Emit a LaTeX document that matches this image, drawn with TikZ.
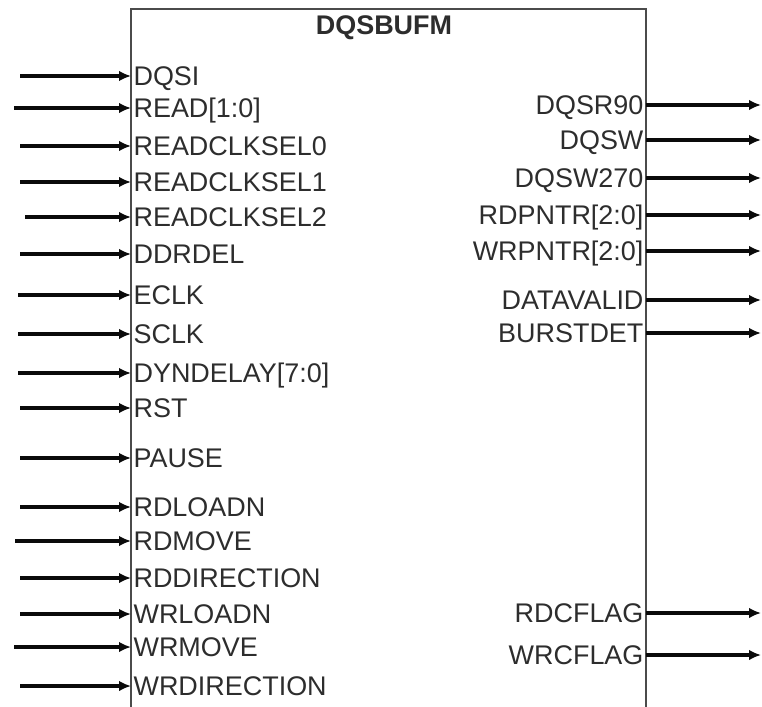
\documentclass[tikz,border=0pt]{standalone}
\usepackage{fontspec}
\setmainfont{Liberation Sans}
\usetikzlibrary{arrows.meta, positioning}
\definecolor{pinink}{RGB}{10, 10, 10}
\definecolor{labelgray}{RGB}{45, 45, 45}
\definecolor{framegray}{RGB}{75, 75, 75}

\begin{document}
\begin{tikzpicture}[
    x=0.03cm, y=-0.03cm,
    frame/.style={line width=1.5pt, draw=framegray},
    inlabel/.style={anchor=west, inner xsep=2pt, inner ysep=0pt, text height=16.5pt, text depth=0pt, font=\fontsize{23}{27}\selectfont, text=labelgray},
    outlabel/.style={inlabel, anchor=east},
    pin/.style={line width=2.8pt, pinink, -{Latex[length=0.36cm, width=0.32cm]}},
    buspin/.style={pin, line width=3.6pt}
]
\useasboundingbox (0,0) rectangle (762,707);

% Gehaeuse
\draw[frame] (131,707) -- (131,9) -- (646,9) -- (646,707);
\node[font=\fontsize{23}{27}\selectfont\bfseries, text=labelgray] (title) at (384,28) {DQSBUFM};

% Eingaenge
\node[inlabel] (dqsi) at (131,76) {DQSI};
\node[inlabel] (read) at (131,108) {READ[1:0]};
\node[inlabel] (rcs0) at (131,146) {READCLKSEL0};
\node[inlabel] (rcs1) at (131,182) {READCLKSEL1};
\node[inlabel] (rcs2) at (131,217) {READCLKSEL2};
\node[inlabel] (ddrdel) at (131,254) {DDRDEL};
\node[inlabel] (eclk) at (131,295) {ECLK};
\node[inlabel] (sclk) at (131,334) {SCLK};
\node[inlabel] (dyndelay) at (131,373) {DYNDELAY[7:0]};
\node[inlabel] (rst) at (131,408) {RST};
\node[inlabel] (pause) at (131,458) {PAUSE};
\node[inlabel] (rdloadn) at (131,507) {RDLOADN};
\node[inlabel] (rdmove) at (131,541) {RDMOVE};
\node[inlabel] (rddir) at (131,578) {RDDIRECTION};
\node[inlabel] (wrloadn) at (131,614) {WRLOADN};
\node[inlabel] (wrmove) at (131,647) {WRMOVE};
\node[inlabel] (wrdir) at (131,686) {WRDIRECTION};

\coordinate (dqsi-src) at (20,76);
\coordinate (read-src) at (14,108);
\coordinate (rcs0-src) at (20,146);
\coordinate (rcs1-src) at (20,182);
\coordinate (rcs2-src) at (25,217);
\coordinate (ddrdel-src) at (20,254);
\coordinate (eclk-src) at (18,295);
\coordinate (sclk-src) at (18,334);
\coordinate (dyndelay-src) at (18,373);
\coordinate (rst-src) at (20,408);
\coordinate (pause-src) at (20,458);
\coordinate (rdloadn-src) at (20,507);
\coordinate (rdmove-src) at (15,541);
\coordinate (rddir-src) at (20,578);
\coordinate (wrloadn-src) at (20,614);
\coordinate (wrmove-src) at (14,647);
\coordinate (wrdir-src) at (20,686);

\draw[pin] (dqsi-src) -- (dqsi.west);
\draw[pin] (read-src) -- (read.west);
\draw[pin] (rcs0-src) -- (rcs0.west);
\draw[pin] (rcs1-src) -- (rcs1.west);
\draw[pin] (rcs2-src) -- (rcs2.west);
\draw[buspin] (ddrdel-src) -- (ddrdel.west);
\draw[pin] (eclk-src) -- (eclk.west);
\draw[pin] (sclk-src) -- (sclk.west);
\draw[pin] (dyndelay-src) -- (dyndelay.west);
\draw[pin] (rst-src) -- (rst.west);
\draw[pin] (pause-src) -- (pause.west);
\draw[pin] (rdloadn-src) -- (rdloadn.west);
\draw[pin] (rdmove-src) -- (rdmove.west);
\draw[pin] (rddir-src) -- (rddir.west);
\draw[pin] (wrloadn-src) -- (wrloadn.west);
\draw[pin] (wrmove-src) -- (wrmove.west);
\draw[pin] (wrdir-src) -- (wrdir.west);

% Ausgaenge
\node[outlabel] (dqsr90) at (646,105) {DQSR90};
\node[outlabel] (dqsw) at (646,140) {DQSW};
\node[outlabel] (dqsw270) at (646,178) {DQSW270};
\node[outlabel] (rdpntr) at (646,215) {RDPNTR[2:0]};
\node[outlabel] (wrpntr) at (646,251) {WRPNTR[2:0]};
\node[outlabel] (datavalid) at (646,300) {DATAVALID};
\node[outlabel] (burstdet) at (646,333) {BURSTDET};
\node[outlabel] (rdcflag) at (646,613) {RDCFLAG};
\node[outlabel] (wrcflag) at (646,655) {WRCFLAG};

\coordinate (dqsr90-dst) at (761,105);
\coordinate (dqsw-dst) at (761,140);
\coordinate (dqsw270-dst) at (761,178);
\coordinate (rdpntr-dst) at (761,215);
\coordinate (wrpntr-dst) at (761,251);
\coordinate (datavalid-dst) at (761,300);
\coordinate (burstdet-dst) at (761,333);
\coordinate (rdcflag-dst) at (761,613);
\coordinate (wrcflag-dst) at (761,655);

\draw[pin] (dqsr90.east) -- (dqsr90-dst);
\draw[pin] (dqsw.east) -- (dqsw-dst);
\draw[pin] (dqsw270.east) -- (dqsw270-dst);
\draw[buspin] (rdpntr.east) -- (rdpntr-dst);
\draw[pin] (wrpntr.east) -- (wrpntr-dst);
\draw[pin] (datavalid.east) -- (datavalid-dst);
\draw[pin] (burstdet.east) -- (burstdet-dst);
\draw[pin] (rdcflag.east) -- (rdcflag-dst);
\draw[pin] (wrcflag.east) -- (wrcflag-dst);

\end{tikzpicture}
\end{document}
